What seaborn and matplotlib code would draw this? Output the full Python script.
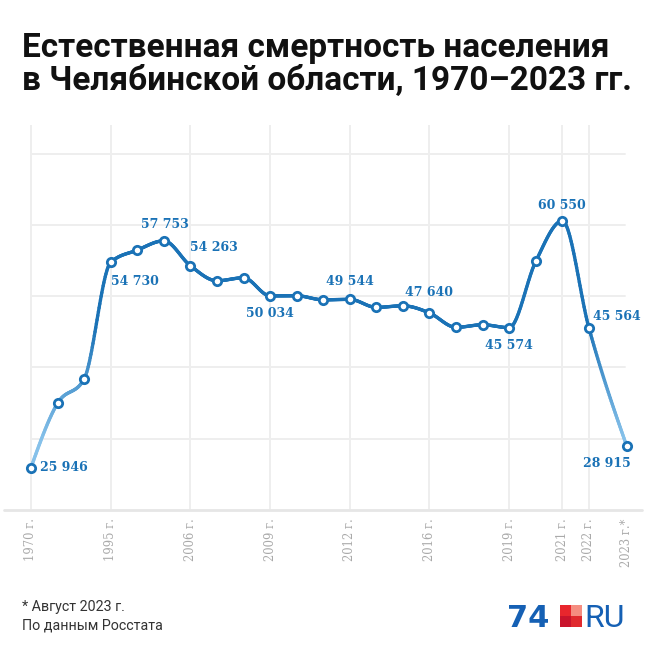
import numpy as np
import matplotlib
matplotlib.use("Agg")
import matplotlib.pyplot as plt
from matplotlib.collections import LineCollection
from matplotlib.colors import LinearSegmentedColormap
from matplotlib.patches import Rectangle
import seaborn as sns
import pandas as pd

# Data
period_pos = [0, 1, 2, 3, 4, 5, 6, 7, 8, 9, 10, 11, 12, 13, 14, 15, 16, 17, 18, 19, 20, 21, 22.43]
deaths = [25946, 34970, 38370, 54730, 56450, 57753, 54263, 52150, 52570, 50034, 50050,
          49480, 49544, 48420, 48640, 47640, 45620, 45980, 45574, 54860, 60550, 45564, 28915]
tick_pos = [0, 3, 6, 9, 12, 15, 18, 20, 21, 22.43]
tick_labels = ['1970 г.', '1995 г.', '2006 г.', '2009 г.', '2012 г.', '2016 г.',
               '2019 г.', '2021 г.', '2022 г.', '2023 г.*']
y_grid = [30000, 40000, 50000, 60000, 70000]
labeled_idx = [0, 3, 5, 6, 9, 12, 15, 18, 20, 21, 22]

df = pd.DataFrame({'pos': period_pos, 'deaths': deaths})

BLUE = '#1a72b6'
LIGHT = '#86c1ea'
GRID = '#eeeeee'

sns.set_theme(style='white')
plt.rcParams['font.family'] = ['Roboto', 'DejaVu Sans']

fig = plt.figure(figsize=(6.56, 6.56), dpi=100)
W = H = 656.0
ax = fig.add_axes([4 / W, 1 - 510 / H, 638 / W, 385 / H])
ax.set_xlim(-1.016, 23.0)
ax.set_ylim(20000, 74000)
ax.axis('off')

# grid
for t in tick_pos[:-1]:
    ax.plot([t, t], [20200, 74000], color=GRID, lw=1.4, zorder=0)
for g in y_grid:
    ax.plot([0, 22.36], [g, g], color=GRID, lw=1.4, zorder=0)
ax.axhline(20000, color='#e6e6e6', lw=2, zorder=0, clip_on=False)


# smooth curve (monotone X, like d3)
def monotone_x(x, y, n=40):
    x = np.asarray(x, float)
    y = np.asarray(y, float)
    h = np.diff(x)
    s = np.diff(y) / h
    m = np.zeros_like(y)
    for i in range(1, len(x) - 1):
        s0, s1 = s[i - 1], s[i]
        p = (s0 * h[i] + s1 * h[i - 1]) / (h[i - 1] + h[i])
        m[i] = (np.sign(s0) + np.sign(s1)) * min(abs(s0), abs(s1), 0.5 * abs(p))
    m[0] = (3 * s[0] - m[1]) / 2
    m[-1] = (3 * s[-1] - m[-2]) / 2
    xs, ys = [], []
    for i in range(len(x) - 1):
        t = np.linspace(0, 1, n)
        h00 = 2 * t**3 - 3 * t**2 + 1
        h10 = t**3 - 2 * t**2 + t
        h01 = -2 * t**3 + 3 * t**2
        h11 = t**3 - t**2
        xs.append(x[i] + t * h[i])
        ys.append(h00 * y[i] + h10 * h[i] * m[i] + h01 * y[i + 1] + h11 * h[i] * m[i + 1])
    return np.concatenate(xs), np.concatenate(ys)


cx, cy = monotone_x(df['pos'], df['deaths'])
pts = np.column_stack([cx, cy]).reshape(-1, 1, 2)
segs = np.concatenate([pts[:-1], pts[1:]], axis=1)
cmap = LinearSegmentedColormap.from_list('grad', [LIGHT, BLUE])
lc = LineCollection(segs, cmap=cmap, norm=plt.Normalize(30000, 46000), lw=2.4,
                    capstyle='round', zorder=2)
lc.set_array(np.clip((cy[:-1] + cy[1:]) / 2, 30000, 46000))
ax.add_collection(lc)

sns.scatterplot(data=df, x='pos', y='deaths', ax=ax, s=36, color='white',
                edgecolor=BLUE, linewidth=2, zorder=3, clip_on=False, legend=False)

# value labels: (dx, dy) in points, ha
place = {0: (6.5, 0, 'left'), 3: (0, -13.5, 'left'), 5: (1, 11.5, 'center'),
         6: (0, 13, 'left'), 9: (0, -12.5, 'center'), 12: (0, 13, 'center'),
         15: (0, 15, 'center'), 18: (0, -12.5, 'center'), 20: (0, 11, 'center'),
         21: (3, 8, 'left'), 22: (2.5, -12.5, 'right')}
for i in labeled_idx:
    dx, dy, ha = place[i]
    txt = f"{deaths[i]:,}".replace(',', ' ')
    ax.annotate(txt, (period_pos[i], deaths[i]), xytext=(dx, dy), textcoords='offset points',
                ha=ha, va='center', color=BLUE, fontsize=9, fontweight='bold',
                family='DejaVu Serif', zorder=4)

# x tick labels
for t, lab in zip(tick_pos, tick_labels):
    ax.annotate(lab, (t, 20000), xytext=(0, -6), textcoords='offset points', rotation=90,
                ha='center', va='top', color='#aaaaaa', fontsize=8.3, family='DejaVu Serif',
                annotation_clip=False)

# title
fig.text(22 / W, 1 - 57 / H, 'Естественная смертность населения', fontsize=24,
         fontweight='bold', color='#111111', va='baseline', ha='left')
fig.text(22 / W, 1 - 90 / H, 'в Челябинской области, 1970–2023 гг.', fontsize=24,
         fontweight='bold', color='#111111', va='baseline', ha='left')

# footer
fig.text(22 / W, 1 - 607 / H, '* Август 2023 г.', fontsize=10.3, color='#333333', va='center')
fig.text(22 / W, 1 - 625 / H, 'По данным Росстата', fontsize=10.3, color='#333333', va='center')

# logo
fig.text(507 / W, 1 - 627 / H, '74', fontsize=22, fontweight='bold', color='#1560b4',
         family='DejaVu Sans', va='baseline', ha='left')
sq = 11
for (px, py, c) in [(560, 605, '#e8262d'), (571, 605, '#f58d80'),
                    (560, 616, '#c9142c'), (571, 616, '#e02a2e')]:
    fig.add_artist(Rectangle((px / W, 1 - (py + sq) / H), sq / W, sq / H,
                             transform=fig.transFigure, color=c, lw=0))
fig.text(584 / W, 1 - 627 / H, 'RU', fontsize=23, color='#1560b4', va='baseline', ha='left')

fig.savefig('out.png', dpi=100, facecolor='white')
